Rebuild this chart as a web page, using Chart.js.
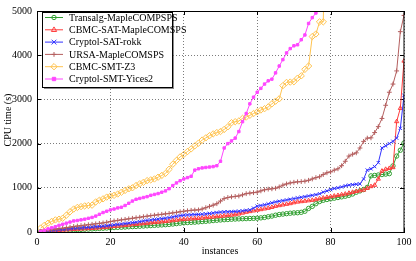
<!DOCTYPE html>
<html><head><meta charset="utf-8">
<script src="https://cdn.jsdelivr.net/npm/chart.js"></script>
<style>html,body{margin:0;padding:0;background:#fff}#wrap{width:416px;height:261px}</style>
</head><body><div id="wrap"><canvas id="c" width="416" height="261"></canvas></div>
<script>
const seriesNames = ["Transalg-MapleCOMPSPS","CBMC-SAT-MapleCOMSPS","Cryptol-SAT-rokk","URSA-MapleCOMSPS","CBMC-SMT-Z3","Cryptol-SMT-Yices2"];
const xTicks = [0,20,40,60,80,100];
const yTicks = [0,1000,2000,3000,4000,5000];
const transalg = [5,10,15,20,25,30,35,40,45,50,55,58,62,66,70,75,80,85,90,95,100,104,108,112,118,122,126,130,135,140,145,150,155,160,165,172,180,190,200,208,214,218,222,230,236,242,250,258,265,272,278,283,289,293,297,300,303,306,309,312,320,330,345,360,380,395,405,415,425,432,436,445,470,533,580,640,690,718,735,750,765,780,795,810,830,860,900,930,960,1010,1270,1280,1290,1300,1310,1320,1495,1718,1850,2013];
const cbmcSat = [8,14,20,26,32,38,44,50,56,62,66,70,75,80,85,90,96,102,110,120,128,136,144,152,160,168,176,184,192,200,208,216,224,232,240,250,260,270,280,289,295,300,305,311,318,326,334,342,350,358,366,374,384,395,410,430,450,465,480,496,510,525,540,560,584,600,615,630,645,665,681,690,700,710,720,735,755,770,785,800,815,829,845,860,880,900,920,935,950,990,1030,1060,1200,1380,1420,1440,1460,2500,2800,3870];
const cryptolSat = [10,18,26,34,42,50,58,66,74,82,88,94,100,106,112,118,124,132,140,150,160,170,180,190,200,210,220,235,250,262,272,282,292,302,312,325,340,355,370,380,386,390,394,398,402,410,420,430,440,450,455,458,460,465,470,478,490,500,540,584,600,615,635,660,681,695,710,725,740,755,770,785,800,815,829,845,865,902,930,960,985,1000,1020,1045,1060,1070,1080,1088,1200,1400,1430,1480,1569,1902,1950,2000,2051,2124,2347,3089];
const ursa = [12,25,38,50,62,74,86,98,110,125,135,145,155,165,175,185,195,205,220,236,250,262,274,286,298,310,322,334,346,358,370,380,390,400,410,420,432,445,458,470,480,490,496,500,520,550,580,607,640,700,755,780,795,805,815,840,867,880,890,902,930,955,970,977,990,1020,1060,1088,1110,1125,1135,1140,1150,1170,1200,1230,1250,1300,1340,1360,1400,1430,1500,1600,1718,1760,1791,1900,2050,2124,2130,2250,2384,2569,2867,3162,3347,3644,4533,4900];
const cbmcSmt = [90,150,200,240,273,290,311,380,458,520,556,575,590,600,607,680,718,750,790,813,829,860,900,940,977,1000,1051,1090,1124,1162,1180,1200,1240,1280,1325,1420,1533,1620,1700,1755,1820,1880,1950,2010,2080,2130,2180,2220,2250,2273,2320,2380,2473,2495,2511,2570,2600,2640,2680,2718,2760,2790,2829,2900,2960,3013,3311,3384,3392,3400,3480,3533,3680,3755,4422,4480,4755,4755,9000];
const cryptolSmt = [15,40,70,95,120,150,175,200,225,250,260,275,290,310,330,360,400,440,470,500,520,545,560,600,650,700,740,760,780,800,830,850,870,900,930,980,1050,1110,1160,1200,1230,1260,1400,1430,1450,1460,1470,1480,1500,1600,1900,2000,2060,2124,2273,2496,2680,2900,3050,3162,3250,3347,3420,3458,3600,3755,3900,4051,4150,4213,4236,4350,4458,4718,4850,4955,9000];

const allValues = [transalg, cbmcSat, cryptolSat, ursa, cbmcSmt, cryptolSmt];
const colors = ["rgb(50,160,50)","rgb(255,60,60)","rgb(50,50,255)","rgb(180,95,95)","rgb(255,195,80)","rgb(255,70,255)"];
const styles = ["circle","triangle","crossRot","cross","rectRot","rect"];
const radii = [2.2,2.4,2.4,2.4,3.2,1.7];
const filled = [false,false,false,false,false,true];

const datasets = allValues.map((vals,i)=>({
  label: seriesNames[i],
  data: vals.map((v,k)=>({x:k+1,y:v})),
  borderColor: colors[i],
  backgroundColor: filled[i]?colors[i]:'rgba(0,0,0,0)',
  pointBackgroundColor: filled[i]?colors[i]:'rgba(0,0,0,0)',
  pointBorderColor: colors[i],
  pointStyle: styles[i],
  pointRadius: radii[i],
  pointBorderWidth: 1,
  borderWidth: 1,
  tension: 0,
  order: 10-i
}));

function drawMarker(ctx, style, x, y, r, color, fill){
  ctx.save();
  ctx.strokeStyle=color; ctx.fillStyle=color; ctx.lineWidth=1;
  ctx.beginPath();
  if(style==='circle'){ctx.arc(x,y,r,0,Math.PI*2);}
  else if(style==='triangle'){ctx.moveTo(x,y-r*1.2);ctx.lineTo(x+r*1.1,y+r*0.7);ctx.lineTo(x-r*1.1,y+r*0.7);ctx.closePath();}
  else if(style==='crossRot'){ctx.moveTo(x-r,y-r);ctx.lineTo(x+r,y+r);ctx.moveTo(x+r,y-r);ctx.lineTo(x-r,y+r);}
  else if(style==='cross'){ctx.moveTo(x-r,y);ctx.lineTo(x+r,y);ctx.moveTo(x,y-r);ctx.lineTo(x,y+r);}
  else if(style==='rectRot'){ctx.moveTo(x,y-r);ctx.lineTo(x+r,y);ctx.lineTo(x,y+r);ctx.lineTo(x-r,y);ctx.closePath();}
  else if(style==='rect'){ctx.rect(x-r,y-r,2*r,2*r);}
  if(fill) ctx.fill();
  ctx.stroke();
  ctx.restore();
}

const decor = {
  id:'decor',
  beforeDatasetsDraw(chart){
    const {ctx, chartArea:a, scales} = chart;
    ctx.save();
    ctx.strokeStyle='#000'; ctx.lineWidth=1;
    ctx.beginPath();
    xTicks.forEach(t=>{const px=Math.round(scales.x.getPixelForValue(t))+0.5;
      ctx.moveTo(px,a.bottom);ctx.lineTo(px,a.bottom-4);ctx.moveTo(px,a.top);ctx.lineTo(px,a.top+4);});
    yTicks.forEach(t=>{const py=Math.round(scales.y.getPixelForValue(t))+0.5;
      ctx.moveTo(a.left,py);ctx.lineTo(a.left+4,py);ctx.moveTo(a.right,py);ctx.lineTo(a.right-4,py);});
    ctx.stroke();
    ctx.restore();
  },
  afterDraw(chart){
    const {ctx, chartArea:a} = chart;
    ctx.save();
    ctx.strokeStyle='#000'; ctx.lineWidth=1;
    ctx.strokeRect(Math.round(a.left)+0.5, Math.round(a.top)+0.5, Math.round(a.right-a.left)-1+0.5, Math.round(a.bottom-a.top));
    ctx.fillStyle='#000';
    ctx.font='10px "Liberation Serif"';
    ctx.textAlign='center'; ctx.textBaseline='middle';
    ctx.fillText('instances', 220, 251);
    ctx.save(); ctx.translate(8, 120); ctx.rotate(-Math.PI/2); ctx.fillText('CPU time (s)',0,0); ctx.restore();
    const lx=42, ly=12, lw=130, lh=75;
    ctx.fillStyle='rgba(90,90,90,0.7)';
    ctx.fillRect(lx+2, ly+2, lw, lh);
    ctx.fillStyle='#fff';
    ctx.fillRect(lx, ly, lw, lh);
    ctx.strokeStyle='#000';
    ctx.strokeRect(lx+0.5, ly+0.5, lw, lh);
    ctx.textAlign='left'; ctx.textBaseline='middle';
    seriesNames.forEach((n,i)=>{
      const y = 17.5 + i*12.3;
      ctx.strokeStyle=colors[i]; ctx.lineWidth=1;
      ctx.beginPath(); ctx.moveTo(45,y); ctx.lineTo(63,y); ctx.stroke();
      drawMarker(ctx, styles[i], 54, y, radii[i], colors[i], filled[i]);
      ctx.fillStyle='#000';
      ctx.fillText(n, 69, y+0.5);
    });
    ctx.restore();
  }
};

new Chart(document.getElementById('c'), {
  type:'line',
  data:{datasets},
  options:{
    responsive:false, animation:false, devicePixelRatio:1,
    layout:{padding:{top:7,right:12,left:0,bottom:0}},
    plugins:{legend:{display:false}, tooltip:{enabled:false}},
    scales:{
      x:{type:'linear', min:0, max:100,
        afterFit(s){s.height=29;},
        afterBuildTicks(s){s.ticks = xTicks.map(v=>({value:v}));},
        ticks:{font:{family:'"Liberation Serif"',size:10}, color:'#000', padding:4, maxRotation:0, callback:(v)=>String(v)},
        grid:{color:'rgba(110,110,110,0.9)', lineWidth:1, drawTicks:false},
        border:{display:true,color:'#000',dash:[1,2]}},
      y:{type:'linear', min:0, max:5000,
        afterFit(s){s.width=37;},
        afterBuildTicks(s){s.ticks = yTicks.map(v=>({value:v}));},
        ticks:{font:{family:'"Liberation Serif"',size:10}, color:'#000', padding:5, callback:(v)=>String(v)},
        grid:{color:'rgba(110,110,110,0.9)', lineWidth:1, drawTicks:false},
        border:{display:true,color:'#000',dash:[1,2]}}
    }
  },
  plugins:[decor]
});
</script>
</body></html>
